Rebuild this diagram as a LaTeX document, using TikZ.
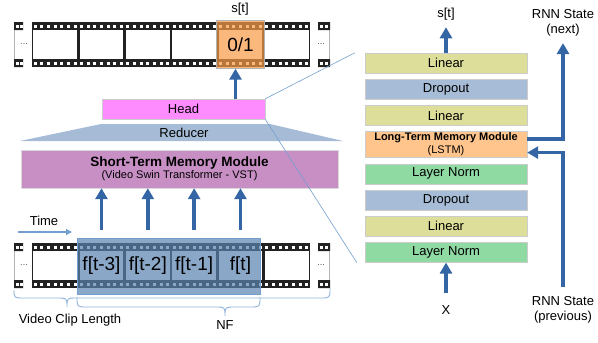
\documentclass[tikz,border=0pt]{standalone}
\usepackage{fontspec}
\setmainfont{Liberation Sans}
\usetikzlibrary{arrows.meta,positioning}

\definecolor{filmblack}{RGB}{34,34,34}
\definecolor{arrowblue}{RGB}{52,101,164}
\definecolor{lightblue}{RGB}{114,159,207}
\definecolor{selorange}{RGB}{248,155,69}
\definecolor{nfblue}{RGB}{91,131,176}
\definecolor{headpink}{RGB}{255,140,255}
\definecolor{stmpurple}{RGB}{199,143,195}
\definecolor{reducerblue}{RGB}{166,188,214}
\definecolor{linearyellow}{RGB}{222,222,155}
\definecolor{dropblue}{RGB}{167,188,214}
\definecolor{lstmorange}{RGB}{255,197,140}
\definecolor{normgreen}{RGB}{143,217,163}

\tikzset{
  txt/.style={font=\fontsize{13}{15}\selectfont, inner sep=2pt, align=center},
  layerbox/.style={txt, draw=black!20, minimum width=162pt, minimum height=20pt, inner sep=0pt},
  filmframe/.style={fill=white, minimum width=43.6pt, minimum height=29pt, inner sep=0pt},
  flabel/.style={font=\fontsize{19}{21}\selectfont, inner sep=0pt},
  filmdots/.style={font=\fontsize{9}{10}\selectfont, text=black!70, inner sep=0pt},
  bigarrow/.style={arrowblue, line width=3.5pt, -{Triangle[width=12pt,length=11pt]}},
  thinarrow/.style={lightblue, line width=1.2pt, -{Triangle[width=6pt,length=6pt]}},
  zoomline/.style={lightblue, line width=0.6pt},
  curly/.style={lightblue!80, line width=0.9pt}
}

\begin{document}
\begin{tikzpicture}[x=1pt,y=-1pt]
\useasboundingbox (0,0) rectangle (598,343);

% Film strips (top: output, bottom: input clip)
\foreach \y/\s in {22/t,243/b} {
  \fill[filmblack] (32,\y) rectangle (310,\y+45);
  \foreach \h in {0,...,41} {
    \fill[white] ({33.8+6.619*\h},\y+2.5) rectangle ++(3,3);
    \fill[white] ({33.8+6.619*\h},\y+39.5) rectangle ++(3,3);
  }
  \foreach \i in {1,...,6}
    \node[filmframe] (\s\i) at ({32+46.33*(\i-0.5)},\y+22.5) {};
  % cut ends
  \fill[filmblack] (14,\y) rectangle (23,\y+8) (14,\y+37) rectangle (23,\y+45);
  \fill[filmblack] (318,\y) rectangle (330,\y+8) (318,\y+37) rectangle (330,\y+45);
  \foreach \hx in {15.5,19.5,320,325} {
    \fill[white] (\hx,\y+2.5) rectangle ++(3,3);
    \fill[white] (\hx,\y+39.5) rectangle ++(3,3);
  }
  \draw[black!30] (14.5,\y+8) -- (14.5,\y+37);
  \draw[black!30] (329.5,\y+8) -- (329.5,\y+37);
  \node[filmdots] (dl\s) at (24,\y+22.5) {...};
  \node[filmdots] (dr\s) at (321,\y+22.5) {...};
}

% Selected output frame
\node[fill=selorange, fill opacity=0.7, text opacity=1, draw=black!30, minimum width=48pt, minimum height=48pt, inner sep=0pt, font=\fontsize{19}{21}\selectfont] (sel) at (t5) {0/1};
\node[txt] (st1) at (240,9) {s[t]};

% Frames fed to the model
\node[fill=nfblue, fill opacity=0.7, draw=lightblue, minimum width=183pt, minimum height=56pt] (nf) at (168.5,266) {};
\foreach \i/\t in {2/f[t-3],3/f[t-2],4/f[t-1],5/f[t]}
  \node[flabel] (f\i) at (b\i) {\t};

% Short-term memory, reducer, head
\node[draw=black!15, fill=stmpurple, minimum width=317pt, minimum height=38pt, inner sep=0pt, align=center] (stm) at (179.5,169)
  {\fontsize{13.5}{14}\selectfont\bfseries Short-Term Memory Module\\\fontsize{11}{14}\selectfont (Video Swin Transformer - VST)};
\fill[reducerblue] (20,141) -- (101,124) -- (270,124) -- (343,141) -- cycle;
\node[txt] (reducer) at (184,133) {Reducer};
\node[layerbox, fill=headpink, minimum width=163pt] (head) at (183.5,109) {Head};

\foreach \i in {2,...,5}
  \draw[bigarrow] ([yshift=21pt]b\i.north) -- (b\i.north |- stm.south);
\draw[bigarrow] ([xshift=-5pt]sel.south |- head.north) -- ([xshift=-5pt]sel.south);

% Time direction
\node[txt] (time) at (44,221) {Time};
\coordinate (tstart) at (18,232);
\coordinate (tend) at (72,232);
\draw[thinarrow] (tstart) -- (tend);

% Braces
\draw[curly] (14,290) .. controls (14,298) .. (24,298) -- (57,298) .. controls (67,298) .. (67,307) .. controls (67,298) .. (77,298) -- (320,298) .. controls (330,298) .. (330,288);
\node[txt] (cliplen) at (70,320) {Video Clip Length};
\draw[curly] (77,297) .. controls (77,307) .. (87,307) -- (215,307) .. controls (225,307) .. (225,316) .. controls (225,307) .. (235,307) -- (250,307) .. controls (260,307) .. (260,297);
\node[txt] (nflabel) at (225,325) {NF};

% Head layers
\node[layerbox, fill=linearyellow] (lin3) at (446,63) {Linear};
\node[layerbox, fill=dropblue, below=5.8pt of lin3] (drop2) {Dropout};
\node[layerbox, fill=linearyellow, below=5.8pt of drop2] (lin2) {Linear};
\node[layerbox, fill=lstmorange, minimum height=26pt, below=5.8pt of lin2, font=\fontsize{11}{13}\selectfont] (lstm) {\textbf{Long-Term Memory Module}\\(LSTM)};
\node[layerbox, fill=normgreen, below=5.8pt of lstm] (norm2) {Layer Norm};
\node[layerbox, fill=dropblue, below=5.8pt of norm2] (drop1) {Dropout};
\node[layerbox, fill=linearyellow, below=5.8pt of drop1] (lin1) {Linear};
\node[layerbox, fill=normgreen, below=5.8pt of lin1] (norm1) {Layer Norm};

\node[txt] (st2) at (446,14) {s[t]};
\node[txt] (xin) at (446,310) {X};
\node[txt] (rnnnext) at (563,23) {RNN State\\(next)};
\node[txt] (rnnprev) at (563,310) {RNN State\\(previous)};

\draw[bigarrow] (lin3.north) -- ([yshift=-5pt]st2.south);
\draw[bigarrow] ([yshift=10pt]xin.north) -- (norm1.south);
\draw[bigarrow] ([yshift=5.5pt]lstm.east) -| ([yshift=-4.5pt]rnnnext.south);
\draw[bigarrow] ([yshift=7.5pt]rnnprev.north) |- ([yshift=-8pt]lstm.east);

% Zoom lines
\draw[zoomline] (head.north east) -- ([xshift=-10pt]lin3.north west);
\draw[zoomline] (head.south east) -- ([xshift=-8pt]norm1.south west);

\end{tikzpicture}
\end{document}
